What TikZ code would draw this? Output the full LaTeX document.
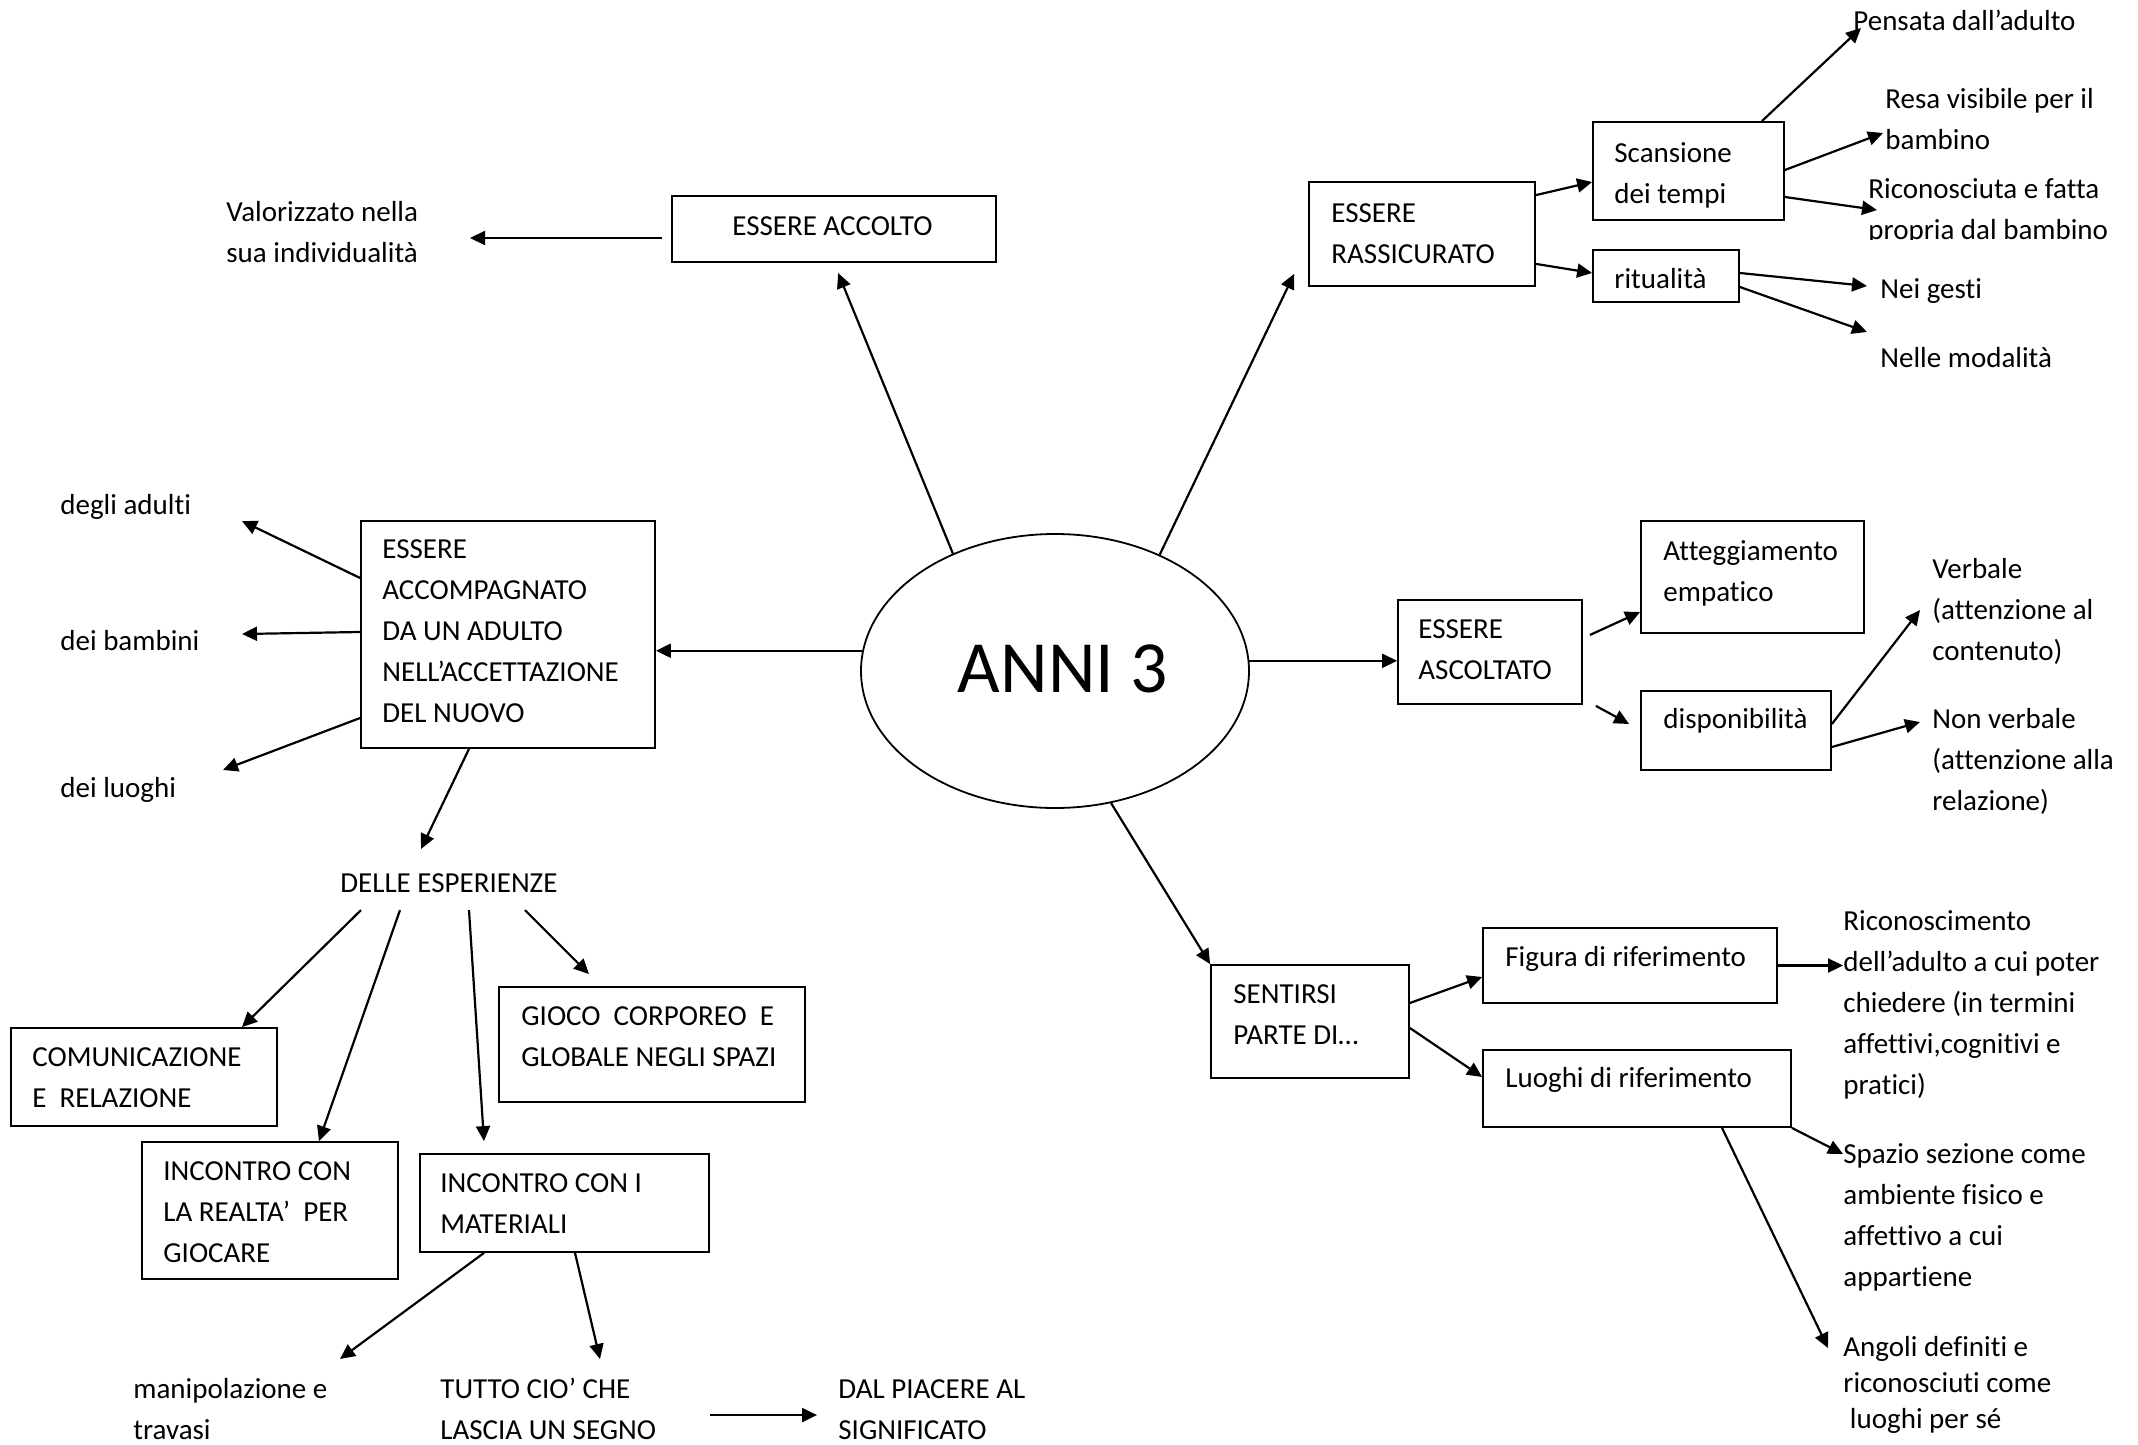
\documentclass[tikz,border=0pt]{standalone}
\usepackage{fontspec}
\setmainfont{Carlito}[Ligatures={NoCommon}]
\usetikzlibrary{arrows.meta,shapes.geometric}
\tikzset{
  box/.style={draw, line width=0.9pt, inner sep=0pt},
  lbl/.style={anchor=north west, inner sep=0pt, align=left, font=\fontsize{14.5}{20.5}\selectfont},
  arr/.style={line width=1.1pt, -{Triangle[length=7.5pt,width=7pt]}},
}
\begin{document}
\begin{tikzpicture}[x=0.5pt,y=-0.5pt]
\useasboundingbox[fill=white] (0,0) rectangle (2138,1445);

% central ellipse
\node[draw, ellipse, line width=0.9pt, inner sep=0pt, minimum width=194pt, minimum height=137pt] (anni) at (1055,671) {};
\node[inner sep=0pt, font=\fontsize{36.8}{40}\selectfont] (anniT) at (1063,669) {ANNI 3};

% boxes
\node[box, minimum width=162pt, minimum height=33pt]   (accolto) at (834,229) {};
\node[box, minimum width=147pt, minimum height=113.5pt] (accomp) at (508,634.5) {};
\node[box, minimum width=113pt, minimum height=52pt]   (rass)   at (1422,234) {};
\node[box, minimum width=95.5pt, minimum height=49pt]  (scans)  at (1688.5,171) {};
\node[box, minimum width=73pt, minimum height=26pt]    (ritual) at (1666,276) {};
\node[box, minimum width=92pt, minimum height=52pt]    (ascolt) at (1490,652) {};
\node[box, minimum width=111.5pt, minimum height=56pt] (atteg)  at (1752.5,577) {};
\node[box, minimum width=95pt, minimum height=39.5pt]  (dispon) at (1736,730.5) {};
\node[box, minimum width=99pt, minimum height=56.5pt]  (sentir) at (1310,1021.5) {};
\node[box, minimum width=147pt, minimum height=37.5pt] (figura) at (1630,965.5) {};
\node[box, minimum width=154pt, minimum height=38.5pt] (luoghi) at (1637,1088.5) {};
\node[box, minimum width=133pt, minimum height=49pt]   (comun)  at (144,1077) {};
\node[box, minimum width=153pt, minimum height=57.5pt] (gioco)  at (652,1044.5) {};
\node[box, minimum width=128pt, minimum height=68.5pt] (realta) at (270,1210.5) {};
\node[box, minimum width=144.5pt, minimum height=49pt] (mater)  at (564.5,1203) {};

% box texts
\node[lbl] (accoltoT) at (732,206.3) {\strut ESSERE ACCOLTO};
\node[lbl] (accompT) at (382,529.3) {\strut ESSERE\\ACCOMPAGNATO\\DA UN ADULTO\\NELL’ACCETTAZIONE\\DEL NUOVO};
\node[lbl] (rassT) at (1331,193.3) {\strut ESSERE\\RASSICURATO};
\node[lbl] (scansT) at (1614,133.3) {\strut Scansione\\dei tempi};
\node[lbl] (ritualT) at (1614,259.3) {\strut ritualità};
\node[lbl] (ascoltT) at (1418,609.3) {\strut ESSERE\\ASCOLTATO};
\node[lbl] (attegT) at (1663,531.3) {\strut Atteggiamento\\empatico};
\node[lbl] (disponT) at (1663,699.3) {\strut disponibilità};
\node[lbl] (sentirT) at (1233,974.3) {\strut SENTIRSI\\PARTE DI…};
\node[lbl] (figuraT) at (1505,937.3) {\strut Figura di riferimento};
\node[lbl] (luoghiT) at (1505,1058.3) {\strut Luoghi di riferimento};
\node[lbl] (comunT) at (32,1037.3) {\strut COMUNICAZIONE\\E\ \ RELAZIONE};
\node[lbl] (giocoT) at (521,996.3) {\strut GIOCO\ \ CORPOREO\ \ E\\GLOBALE NEGLI SPAZI};
\node[lbl] (realtaT) at (163,1151.3) {\strut INCONTRO CON\\LA REALTA’\ \ PER\\GIOCARE};
\node[lbl] (materT) at (440,1163.3) {\strut INCONTRO CON I\\MATERIALI};

% free texts
\node[lbl] (valor) at (226,192.3) {\strut Valorizzato nella\\sua individualità};
\node[lbl] (adulti) at (60,485.3) {\strut degli adulti};
\node[lbl] (bambini) at (60,621.3) {\strut dei bambini};
\node[lbl] (luoghiL) at (60,768.3) {\strut dei luoghi};
\node[lbl] (delle) at (340,863.3) {\strut DELLE ESPERIENZE};
\node[lbl] (manip) at (133,1369.3) {\strut manipolazione e\\travasi};
\node[lbl] (tutto) at (440,1369.3) {\strut TUTTO CIO’ CHE\\LASCIA UN SEGNO};
\node[lbl] (dal) at (838,1369.3) {\strut DAL PIACERE AL\\SIGNIFICATO};
\node[lbl] (pensata) at (1853,1.3) {\strut Pensata dall’adulto};
\node[lbl] (resa) at (1885,79.3) {\strut Resa visibile per il\\bambino};
\begin{scope}
  \clip (1840,150) rectangle (2138,239);
  \node[lbl] (ricon) at (1868,169.3) {\strut Riconosciuta e fatta\\propria dal bambino};
\end{scope}
\node[lbl] (nei) at (1880,269.3) {\strut Nei gesti};
\node[lbl] (nelle) at (1880,338.3) {\strut Nelle modalità};
\node[lbl] (verbale) at (1932,549.3) {\strut Verbale\\(attenzione al\\contenuto)};
\node[lbl] (nonverb) at (1932,699.3) {\strut Non verbale\\(attenzione alla\\relazione)};
\node[lbl] (riconosc) at (1843,901.3) {\strut Riconoscimento\\dell’adulto a cui poter\\chiedere (in termini\\affettivi,cognitivi e\\pratici)};
\node[lbl] (spazio) at (1843,1134.3) {\strut Spazio sezione come\\ambiente fisico e\\affettivo a cui\\appartiene};
\node[lbl, font=\fontsize{14.5}{18}\selectfont] (angoli) at (1843,1330.8) {\strut Angoli definiti e\\riconosciuti come\\\ luoghi per sé};

% free arrow ends
\coordinate (cValor) at (470,238);
\coordinate (cAdulti) at (242,521);
\coordinate (cBamb) at (242,634);
\coordinate (cLuoghi) at (223,770);
\coordinate (cDelle) at (421,849);
\coordinate (cPens) at (1861,28);
\coordinate (cResa) at (1883,133);
\coordinate (cRicon) at (1877,210);
\coordinate (cNei) at (1867,286);
\coordinate (cNelle) at (1867,332);
\coordinate (cVerb) at (1920,610);
\coordinate (cNonv) at (1920,722);
\coordinate (cSpazio) at (1843,1154);
\coordinate (cAngoli) at (1828,1348);
\coordinate (cManip) at (340,1359);
\coordinate (cTutto) at (600,1359);

% connectors
\draw[arr, shorten >=5.5pt] (anni.131) -- (accolto.south);
\draw[arr, shorten <=4.5pt] ([yshift=-4.5pt]accolto.west) -- (cValor);
\draw[arr] (anni.174) -- (anni.174 -| accomp.east);
\draw[arr] ([yshift=28.25pt]accomp.west) -- (cAdulti);
\draw[arr] ([yshift=1.25pt]accomp.west) -- (cBamb);
\draw[arr] ([yshift=-41.75pt]accomp.west) -- (cLuoghi);
\draw[arr] ([xshift=-19.5pt]accomp.south) -- (cDelle);
\draw[arr] (anni.48) -- ([xshift=-7pt,yshift=6.5pt]rass.south west);
\draw[arr] ([yshift=-7pt]rass.north east) -- ([yshift=-5.5pt]scans.west);
\draw[arr] ([yshift=11.5pt]rass.south east) -- ([yshift=1.5pt]ritual.west);
\draw[arr] ([xshift=-11.5pt]scans.north east) -- (cPens);
\draw[arr] ([yshift=0.5pt]scans.east) -- (cResa);
\draw[arr] ([yshift=-13pt]scans.east) -- (cRicon);
\draw[arr] ([yshift=1.5pt]ritual.east) -- (cNei);
\draw[arr] ([yshift=-5.5pt]ritual.east) -- (cNelle);
\draw[arr] (anni.3) -- (anni.3 -| ascolt.west);
\draw[arr] ([xshift=3.5pt,yshift=8.5pt]ascolt.east) -- ([yshift=-17.5pt]atteg.west);
\draw[arr] ([xshift=6.5pt,yshift=-0.5pt]ascolt.south east) -- ([xshift=-5.5pt,yshift=3.25pt]dispon.west);
\draw[arr] ([yshift=3.25pt]dispon.east) -- (cVerb);
\draw[arr] ([yshift=-8.25pt]dispon.east) -- (cNonv);
\draw[arr] (anni.-67) -- (sentir.north west);
\draw[arr] ([yshift=9.25pt]sentir.east) -- ([yshift=-5.75pt]figura.west);
\draw[arr] ([yshift=-3.25pt]sentir.east) -- ([yshift=5.75pt]luoghi.west);
\draw[arr] (figura.east) -- (figura.east -| riconosc.west);
\draw[arr] (luoghi.south east) -- (cSpazio);
\draw[arr] ([xshift=42.5pt]luoghi.south) -- (cAngoli);
\draw[arr] ([xshift=10.5pt,yshift=-2.5pt]delle.south west) -- ([xshift=49pt]comun.north);
\draw[arr] ([xshift=30pt,yshift=-2.5pt]delle.south west) -- ([xshift=24.5pt]realta.north);
\draw[arr] ([xshift=64.5pt,yshift=-2.5pt]delle.south west) -- ([xshift=-40.25pt,yshift=6pt]mater.north);
\draw[arr] ([xshift=92.5pt,yshift=-2.5pt]delle.south west) -- ([xshift=-31.5pt,yshift=6pt]gioco.north);
\draw[arr] ([xshift=-40.25pt]mater.south) -- (cManip);
\draw[arr] ([xshift=5.25pt]mater.south) -- (cTutto);
\draw[arr] ([xshift=-64pt,yshift=-5.2pt]dal.west) -- ([xshift=-10.5pt,yshift=-5.2pt]dal.west);
\end{tikzpicture}
\end{document}
